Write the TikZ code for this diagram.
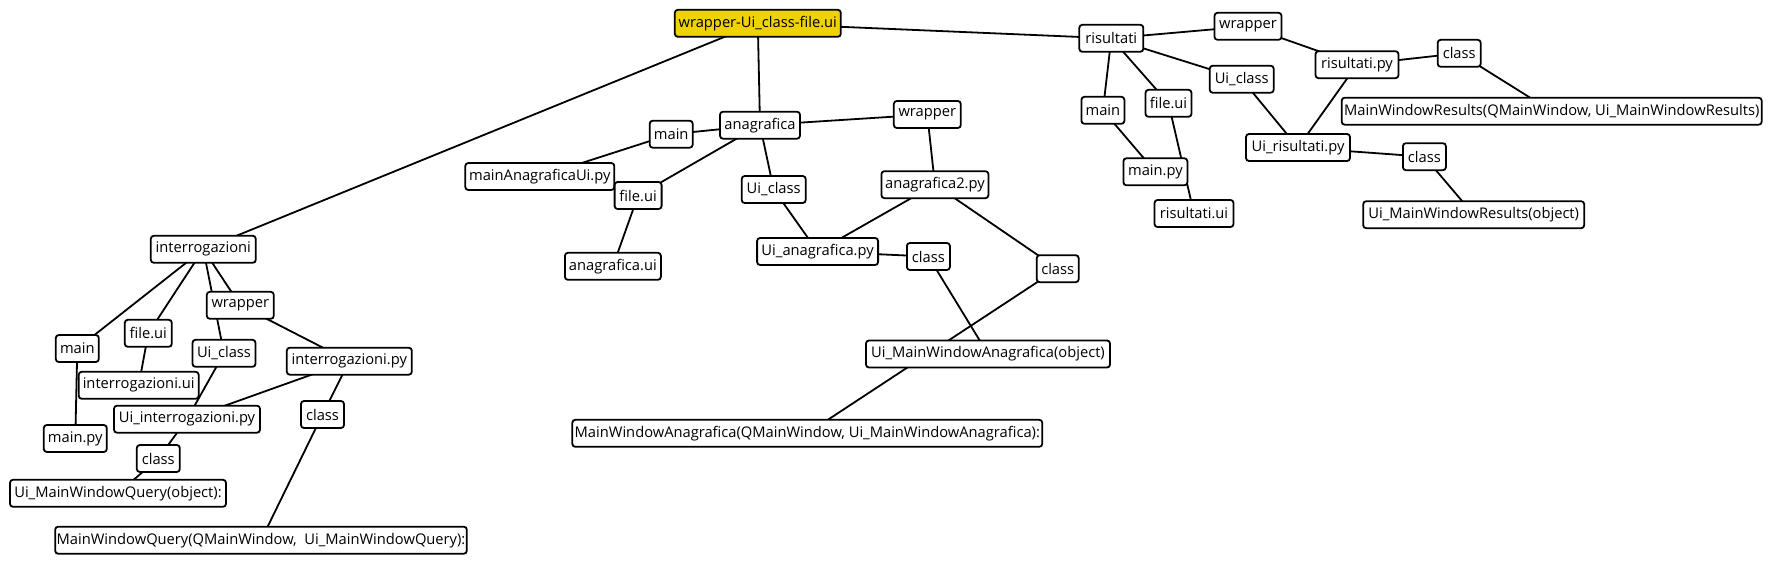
\documentclass[tikz,border=0pt]{standalone}
\usepackage{fontspec}
\setmainfont{Open Sans}
\usetikzlibrary{backgrounds}
\definecolor{rootyellow}{RGB}{238,210,2}
\begin{document}
\begin{tikzpicture}[x=1pt,y=-1pt,
  box/.style={draw=black, line width=1.8pt, rounded corners=3pt, fill=white,
    minimum height=27pt, inner xsep=1.5pt, inner ysep=2pt,
    font=\fontsize{14.7}{16}\selectfont, text=black},
  rootbox/.style={box, fill=rootyellow},
  edge/.style={draw=black, line width=1.8pt}]
\useasboundingbox (0,0) rectangle (1772,564);
% root
\node[rootbox, minimum width=166pt] (root) at (757.8,23.3) {wrapper-Ui\_class-file.ui};
% interrogazioni branch
\node[box, minimum width=105pt] (iq) at (203.3,249.3) {interrogazioni};
\node[box, minimum width=67pt] (iqwrap) at (240.3,305.3) {wrapper};
\node[box, minimum width=43pt] (iqmain) at (77.3,348.5) {main};
\node[box, minimum width=47pt] (iqfile) at (148.3,333.3) {file.ui};
\node[box, minimum width=63pt] (iquicl) at (224,353.3) {Ui\_class};
\node[box, minimum width=125pt] (iqpy) at (349.3,361.2) {interrogazioni.py};
\node[box, minimum width=120pt] (iqui) at (138.7,385.3) {interrogazioni.ui};
\node[box, minimum width=146pt] (iquipy) at (187,419.2) {Ui\_interrogazioni.py};
\node[box, minimum width=63pt] (iqmainpy) at (75.3,438.5) {main.py};
\node[box, minimum width=43pt] (iqclsL) at (158.3,458.5) {class};
\node[box, minimum width=43pt] (iqclsR) at (322.5,414.5) {class};
\node[box, minimum width=216pt] (iquimwq) at (118,493.3) {Ui\_MainWindowQuery(object):};
\node[box, minimum width=410pt] (iqmwq) at (261,540.2) {MainWindowQuery(QMainWindow,\ \ Ui\_MainWindowQuery):};
% anagrafica branch
\node[box, minimum width=80pt] (an) at (760,125.2) {anagrafica};
\node[box, minimum width=43pt] (anmain) at (671.2,134.2) {main};
\node[box, minimum width=67pt] (anwrap) at (927.3,114.5) {wrapper};
\node[box, minimum width=149pt] (anmainpy) at (539.8,176.5) {mainAnagraficaUi.py};
\node[box, minimum width=47pt] (anfile) at (638.1,195.5) {file.ui};
\node[box, minimum width=64pt] (anuicl) at (773.7,189.5) {Ui\_class};
\node[box, minimum width=107pt] (an2py) at (934.9,184.7) {anagrafica2.py};
\node[box, minimum width=96pt] (anui) at (612.9,266.3) {anagrafica.ui};
\node[box, minimum width=121pt] (anuipy) at (817.6,251.5) {Ui\_anagrafica.py};
\node[box, minimum width=43pt] (anclsM) at (928.4,256.5) {class};
\node[box, minimum width=42pt] (anclsR) at (1057.7,268.7) {class};
\node[box, minimum width=244pt] (anuimwa) at (988,354) {Ui\_MainWindowAnagrafica(object)};
\node[box, minimum width=470pt] (anmwa) at (807.3,433.3) {MainWindowAnagrafica(QMainWindow, Ui\_MainWindowAnagrafica):};
% risultati branch
\node[box, minimum width=64pt] (ri) at (1111.3,38.3) {risultati};
\node[box, minimum width=67pt] (riwrap) at (1248,26.3) {wrapper};
\node[box, minimum width=83pt] (ripy) at (1357,64.7) {risultati.py};
\node[box, minimum width=43pt] (riclsT) at (1459.2,53.3) {class};
\node[box, minimum width=64pt] (riuicl) at (1241.7,79.2) {Ui\_class};
\node[box, minimum width=43pt] (rimain) at (1102.9,110.3) {main};
\node[box, minimum width=46pt] (rifile) at (1168.5,103.3) {file.ui};
\node[box, minimum width=420pt] (rimwr) at (1551.7,111.2) {MainWindowResults(QMainWindow, Ui\_MainWindowResults)};
\node[box, minimum width=104pt] (riuipy) at (1298,147.5) {Ui\_risultati.py};
\node[box, minimum width=43pt] (riclsB) at (1424.4,156.7) {class};
\node[box, minimum width=64pt] (rimainpy) at (1155.4,171.8) {main.py};
\node[box, minimum width=79pt] (riui) at (1194,213.5) {risultati.ui};
\node[box, minimum width=221pt] (riuimwr) at (1473.7,214.7) {Ui\_MainWindowResults(object)};
% connectors
\begin{pgfonlayer}{background}
\draw[edge] (root.center) -- (iq.center);
\draw[edge] (root.center) -- (an.center);
\draw[edge] (root.center) -- (ri.center);
% interrogazioni
\draw[edge] (iq.center) -- (iqmain.center);
\draw[edge] (iq.center) -- (iqfile.center);
\draw[edge] (iq.center) -- (iqwrap.center);
\draw[edge] (iq.center) -- (iquicl.center);
\draw[edge] (iqmain.center) -- (iqmainpy.center);
\draw[edge] (iqfile.center) -- (iqui.center);
\draw[edge] (iquicl.center) -- (iquipy.center);
\draw[edge] (iqwrap.center) -- (iqpy.center);
\draw[edge] (iqpy.center) -- (iquipy.center);
\draw[edge] (iqpy.center) -- (iqclsR.center);
\draw[edge] (iqclsR.center) -- (iqmwq.center);
\draw[edge] (iquipy.center) -- (iqclsL.center);
\draw[edge] (iqclsL.center) -- (iquimwq.center);
% anagrafica
\draw[edge] (an.center) -- (anmain.center);
\draw[edge] (anmain.center) -- (anmainpy.center);
\draw[edge] (an.center) -- (anfile.center);
\draw[edge] (anfile.center) -- (anui.center);
\draw[edge] (an.center) -- (anwrap.center);
\draw[edge] (anwrap.center) -- (an2py.center);
\draw[edge] (an.center) -- (anuicl.center);
\draw[edge] (anuicl.center) -- (anuipy.center);
\draw[edge] (an2py.center) -- (anuipy.center);
\draw[edge] (an2py.center) -- (anclsR.center);
\draw[edge] (anuipy.center) -- (anclsM.center);
\draw[edge] (anclsM.center) -- (anuimwa.center);
\draw[edge] (anclsR.center) -- (anmwa.center);
% risultati
\draw[edge] (ri.center) -- (riwrap.center);
\draw[edge] (riwrap.center) -- (ripy.center);
\draw[edge] (ripy.center) -- (riclsT.center);
\draw[edge] (riclsT.center) -- (rimwr.center);
\draw[edge] (ri.center) -- (riuicl.center);
\draw[edge] (riuicl.center) -- (riuipy.center);
\draw[edge] (ripy.center) -- (riuipy.center);
\draw[edge] (riuipy.center) -- (riclsB.center);
\draw[edge] (riclsB.center) -- (riuimwr.center);
\draw[edge] (ri.center) -- (rimain.center);
\draw[edge] (rimain.center) -- (rimainpy.center);
\draw[edge] (ri.center) -- (rifile.center);
\draw[edge] (rifile.center) -- (riui.center);
\end{pgfonlayer}
\end{tikzpicture}
\end{document}
